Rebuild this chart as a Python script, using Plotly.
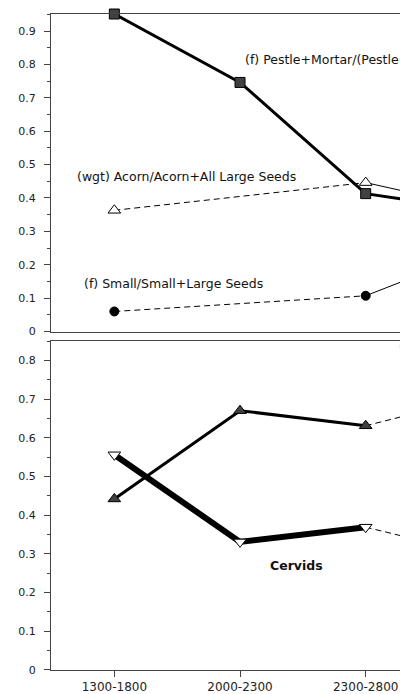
import plotly.graph_objects as go
from plotly.subplots import make_subplots

# ---------------- data ----------------
periods = ["1300-1800", "2000-2300", "2300-2800", "2800-3200", "3200-3500"]

# top panel (plant-processing indices)
pestle_mortar = [0.951, 0.746, 0.413, 0.357, None]
acorn_wgt = [0.363, None, 0.446, 0.362, None]
small_seeds = [0.060, None, 0.107, 0.254, None]

# bottom panel (fauna indices)
fauna_a = [0.442, 0.670, 0.631, None, 0.795]
cervids = [0.556, 0.331, 0.369, None, 0.212]

y_ticks_top = [0, 0.1, 0.2, 0.3, 0.4, 0.5, 0.6, 0.7, 0.8, 0.9]
y_ticks_bot = [0, 0.1, 0.2, 0.3, 0.4, 0.5, 0.6, 0.7, 0.8]

# ---------------- figure ----------------
FONT = "DejaVu Sans, Liberation Sans, Arial, sans-serif"
AX = "#444444"

fig = make_subplots(rows=2, cols=1)


def gap_bridges(vals):
    idx = [i for i, v in enumerate(vals) if v is not None]
    return [(a, b) for a, b in zip(idx, idx[1:]) if b - a > 1]


def add_series(vals, row, width, symbol, size, fill, lw_marker=1):
    for a, b in gap_bridges(vals):
        fig.add_trace(go.Scatter(
            x=[periods[a], periods[b]], y=[vals[a], vals[b]],
            mode="lines", line=dict(color="black", width=1, dash="6px,4px"),
            showlegend=False, hoverinfo="skip"), row=row, col=1)
    return dict(vals=vals, row=row, width=width, symbol=symbol, size=size,
                fill=fill, lw=lw_marker)


series = [
    add_series(acorn_wgt, 1, 1, "triangle-up", 11, "white"),
    add_series(small_seeds, 1, 1, "circle", 9, "black"),
    add_series(pestle_mortar, 1, 3, "square", 10, "#404040"),
    add_series(fauna_a, 2, 3, "triangle-up", 11, "#404040"),
    add_series(cervids, 2, 6, "triangle-down", 11, "white"),
]
for s in series:
    fig.add_trace(go.Scatter(
        x=periods, y=s["vals"], mode="lines+markers", connectgaps=False,
        line=dict(color="black", width=s["width"]),
        marker=dict(symbol=s["symbol"], size=s["size"], color=s["fill"],
                    line=dict(color="black", width=s["lw"])),
        cliponaxis=False, showlegend=False), row=s["row"], col=1)

xcommon = dict(type="category", categoryorder="array", categoryarray=periods,
               range=[-0.504, 2.273], domain=[0, 1], showline=True,
               mirror=True, linecolor=AX, linewidth=1, showgrid=False,
               zeroline=False)
fig.update_layout(
    xaxis=dict(**xcommon, showticklabels=False, ticks=""),
    xaxis2=dict(**xcommon, ticks="outside", ticklen=6, tickcolor=AX,
                tickfont=dict(family=FONT, size=12, color="#222")),
)

ycommon = dict(showline=True, linecolor=AX, linewidth=1, showgrid=False,
               zeroline=False, ticks="outside", ticklen=6, tickcolor=AX,
               tickfont=dict(family=FONT, size=11, color="#222"),
               ticklabelstandoff=6,
               minor=dict(ticks="outside", ticklen=3, tickcolor=AX, dtick=0.05))
fig.update_layout(
    yaxis=dict(**ycommon, range=[0, 0.951], domain=[0.516, 1],
               tickvals=y_ticks_top, ticktext=[f"{v:g}" for v in y_ticks_top]),
    yaxis2=dict(**ycommon, range=[0, 0.85], domain=[0, 0.5015],
                tickvals=y_ticks_bot, ticktext=[f"{v:g}" for v in y_ticks_bot]),
)

ann_font = dict(family=FONT, size=12.5, color="#111")
annotations = [
    dict(text="(f) Pestle+Mortar/(Pestle+Mortar+Metate)", x=1.021, y=0.816,
         xref="x", yref="y", xanchor="left"),
    dict(text="(wgt) Acorn/Acorn+All Large Seeds", x=-0.313, y=0.463,
         xref="x", yref="y", xanchor="left"),
    dict(text="(f) Small/Small+Large Seeds", x=-0.259, y=0.145,
         xref="x", yref="y", xanchor="left"),
    dict(text="<b>Cervids</b>", x=1.451, y=0.27, xref="x2", yref="y2",
         xanchor="center"),
    dict(text="(f) Lagomorphs", x=2.25, y=0.835, xref="x2", yref="y2",
         xanchor="left"),
]
for a in annotations:
    fig.add_annotation(**a, yanchor="middle", showarrow=False, font=ann_font)

fig.update_layout(
    width=400, height=694,
    margin=dict(l=51, r=0, t=14, b=22),
    paper_bgcolor="white", plot_bgcolor="white",
    showlegend=False,
)

fig.write_html(
    "out.html",
    config={"displayModeBar": False},
    post_script="document.body.style.margin='0';"
                "document.body.style.overflow='hidden';",
)
